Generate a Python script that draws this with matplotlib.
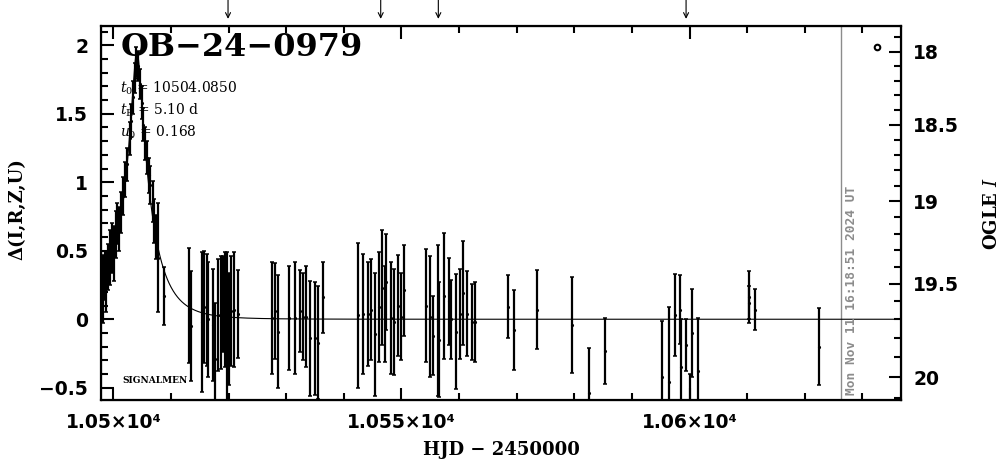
import numpy as np
import matplotlib
matplotlib.use("Agg")
import matplotlib.pyplot as plt
from matplotlib.ticker import MultipleLocator, FixedLocator

plt.rcParams['mathtext.fontset'] = 'dejavuserif'

# event parameters (as printed on the chart)
event_name = "OB\u221224\u22120979"
t0 = 10504.0850
tE = 5.10
u0 = 0.168
# baseline I magnitude and source fraction for the OGLE I axis
I_base = 19.70
f_src = 0.75

# photometry: HJD-2450000, delta mag, error
hjd = [10497.9, 10498.2, 10498.5, 10498.8, 10499.1, 10499.5, 10499.8, 10500.1,
       10500.4, 10500.7, 10501.0, 10501.3, 10501.7, 10502.0, 10502.4, 10502.8,
       10503.1, 10503.4, 10503.7, 10504.0, 10504.3, 10504.6, 10504.9, 10505.2,
       10505.5, 10505.8, 10506.1, 10506.4, 10506.8, 10507.1, 10507.4, 10507.8,
       10508.7,
       10513.2, 10513.5, 10515.4, 10515.8, 10516.2, 10516.5, 10517.3, 10517.7,
       10518.2, 10518.7, 10519.1, 10519.4, 10519.7, 10520.1, 10520.5, 10521.0,
       10521.6, 10527.6, 10528.0, 10528.6, 10530.5, 10531.5, 10532.4, 10532.9,
       10533.5, 10534.1, 10535.0, 10535.5, 10536.4, 10542.5, 10543.3, 10544.2,
       10544.8, 10545.4, 10546.1, 10546.7, 10547.1, 10547.4, 10548.2, 10548.7,
       10549.4, 10550.0, 10550.4, 10554.3, 10554.9, 10555.5, 10556.3, 10556.6,
       10557.4, 10558.2, 10558.6, 10559.5, 10560.1, 10560.6, 10561.4, 10562.3,
       10562.7, 10568.5, 10569.5, 10573.5, 10579.6, 10582.5, 10585.4, 10595.3,
       10596.4, 10597.4, 10598.4, 10598.5, 10599.4, 10600.0, 10600.4, 10601.4,
       10610.3, 10610.4, 10611.4, 10622.4]
dmag = [0.30, 0.22, 0.32, 0.27, 0.38, 0.45, 0.52, 0.48,
        0.62, 0.70, 0.66, 0.78, 0.90, 1.02, 1.13, 1.32,
        1.45, 1.62, 1.76, 1.88, 1.85, 1.72, 1.58, 1.42,
        1.28, 1.18, 1.05, 0.98, 0.86, 0.72, 0.60, 0.45,
        0.17,
        0.10, -0.05, -0.02, 0.09, 0.07, 0.00, -0.04, -0.29,
        0.03, 0.05, 0.11, 0.07, -0.05, -0.07, 0.06, 0.07,
        0.04, 0.01, 0.06, -0.09, 0.01, 0.01, 0.06, 0.02,
        0.02, -0.14, -0.14, -0.17, 0.16, 0.03, 0.04, 0.04,
        0.07, -0.11, 0.09, 0.23, 0.04, 0.27, 0.01, -0.02,
        0.10, 0.02, 0.21, 0.10, 0.02, -0.12, -0.01, -0.15,
        0.17, 0.13, 0.00, -0.09, 0.04, 0.19, 0.04, -0.02,
        -0.02, 0.09, -0.08, 0.07, -0.04, -0.54, -0.23, -0.42,
        -0.46, 0.03, 0.07, -0.35, -0.19, -0.75, -0.10, -0.38,
        0.16, 0.12, 0.07, -0.20]
err = [0.20, 0.25, 0.18, 0.22, 0.17, 0.20, 0.18, 0.20,
       0.17, 0.15, 0.16, 0.15, 0.14, 0.13, 0.12, 0.12,
       0.12, 0.12, 0.11, 0.11, 0.11, 0.11, 0.12, 0.12,
       0.12, 0.12, 0.13, 0.14, 0.15, 0.16, 0.16, 0.40,
       0.21,
       0.42, 0.40, 0.51, 0.41, 0.41, 0.42, 0.41, 0.41,
       0.41, 0.41, 0.35, 0.42, 0.54, 0.41, 0.40, 0.42,
       0.32, 0.41, 0.35, 0.41, 0.38, 0.41, 0.30, 0.32,
       0.37, 0.42, 0.41, 0.41, 0.26, 0.53, 0.44, 0.38,
       0.37, 0.45, 0.40, 0.42, 0.35, 0.35, 0.41, 0.39,
       0.37, 0.32, 0.33, 0.41, 0.44, 0.29, 0.55, 0.42,
       0.46, 0.32, 0.29, 0.42, 0.33, 0.38, 0.31, 0.28,
       0.29, 0.23, 0.29, 0.29, 0.35, 0.33, 0.24, 0.41,
       0.55, 0.30, 0.25, 0.35, 0.19, 0.35, 0.32, 0.39,
       0.19, 0.12, 0.15, 0.28]

# observation arrows above the frame
arrow_hjd = [10519.9, 10546.4, 10556.4, 10599.4]
now_hjd = 10626.3
now_text = "Mon Nov 11 16:18:51 2024 UT"
marker_pt = (10632.5, 1.99)

xticks = [10500, 10550, 10600]
xtick_labels = ["1.05\u00d710\u2074", "1.055\u00d710\u2074", "1.06\u00d710\u2074"]
yticks = [-0.5, 0, 0.5, 1, 1.5, 2]
ytick_labels = ["\u22120.5", "0", "0.5", "1", "1.5", "2"]
mag_ticks = [18, 18.5, 19, 19.5, 20]
mag_labels = ["18", "18.5", "19", "19.5", "20"]


def mag_to_delta(m):
    m = np.asarray(m, dtype=float)
    flux = 10 ** (-0.4 * (m - I_base))
    return 2.5 * np.log10((flux - (1 - f_src)) / f_src)


fig = plt.figure(figsize=(10.04, 4.59), dpi=100)
ax = fig.add_axes([0.1003, 0.1275, 0.7968, 0.8159])
xmin, xmax = 10497.8, 10636.65
ymin, ymax = -0.593, 2.141

# model curve
tm = np.linspace(xmin, xmax, 3000)
u = np.sqrt(u0 ** 2 + ((tm - t0) / tE) ** 2)
A = (u ** 2 + 2) / (u * np.sqrt(u ** 2 + 4))
ax.plot(tm, 2.5 * np.log10(A), color='k', lw=0.8, zorder=2)

ax.errorbar(hjd, dmag, yerr=err, fmt='.', ms=2.5, color='k', ecolor='k',
            elinewidth=1.6, capsize=1.5, capthick=1.1, zorder=3)

ax.axvline(now_hjd, color='#8c8c8c', lw=1.0, zorder=1)
ax.text(now_hjd + 0.75, -0.555, now_text, rotation=90, ha='left', va='bottom',
        color='#8c8c8c', fontsize=9.3, fontweight='bold', family='DejaVu Sans Mono')
ax.plot(*marker_pt, marker='o', ms=4, mfc='white', mec='k', mew=1.5, zorder=4)

for t in arrow_hjd:
    ax.annotate('', xy=(t, 1.019), xycoords=('data', 'axes fraction'),
                xytext=(t, 1.075), textcoords=('data', 'axes fraction'),
                arrowprops=dict(arrowstyle='->', lw=0.8, color='k',
                                shrinkA=0, shrinkB=0, mutation_scale=9),
                annotation_clip=False)

ax.set_xlim(xmin, xmax)
ax.set_ylim(ymin, ymax)

ax.set_xticks(xticks)
ax.set_xticklabels(xtick_labels)
ax.xaxis.set_minor_locator(MultipleLocator(10))
ax.set_yticks(yticks)
ax.set_yticklabels(ytick_labels)
ax.yaxis.set_minor_locator(MultipleLocator(0.1))
ax.tick_params(which='both', direction='in', top=True, right=False, width=1.5)
ax.tick_params(which='major', length=9)
ax.tick_params(which='minor', length=5)
ax.tick_params(axis='x', pad=9)
ax.tick_params(axis='y', pad=9)
for lab in ax.get_xticklabels() + ax.get_yticklabels():
    lab.set_fontsize(13.5)
    lab.set_fontweight('bold')
for s in ax.spines.values():
    s.set_linewidth(1.6)

ax2 = ax.twinx()
ax2.set_ylim(ymin, ymax)
ax2.yaxis.set_major_locator(FixedLocator(mag_to_delta(mag_ticks)))
ax2.set_yticklabels(mag_labels)
ax2.yaxis.set_minor_locator(FixedLocator(mag_to_delta(np.arange(17.9, 20.15, 0.1))))
ax2.tick_params(which='both', direction='in', width=1.5, pad=9)
ax2.tick_params(which='major', length=9)
ax2.tick_params(which='minor', length=5)
for lab in ax2.get_yticklabels():
    lab.set_fontsize(13.5)
    lab.set_fontweight('bold')

# annotations
ax.text(0.025, 0.985, event_name, transform=ax.transAxes, ha='left', va='top',
        fontsize=23, fontweight='bold', family='DejaVu Serif')
params = [r"$t_0$ = 10504.0850", r"$t_{\rm E}$ = 5.10 d", r"$u_0$ = 0.168"]
for i, s in enumerate(params):
    ax.text(0.024, 0.833 - i * 0.058, s, transform=ax.transAxes, ha='left',
            va='center', fontsize=10, family='DejaVu Serif')
ax.text(0.027, 0.054, "SIGNALMEN", transform=ax.transAxes, ha='left',
        va='center', fontsize=6.5, fontweight='bold', family='DejaVu Serif')

fig.text(0.499, 0.02, "HJD \u2212 2450000", ha='center', va='center',
         fontsize=13, fontweight='bold', family='DejaVu Serif')
fig.text(0.017, 0.545, "\u0394(I,R,Z,U)", rotation=90, ha='center', va='center',
         fontsize=13, fontweight='bold', family='DejaVu Serif')
fig.text(0.988, 0.535, r"OGLE $\mathit{I}$", rotation=90, ha='center', va='center',
         fontsize=13, fontweight='bold', family='DejaVu Serif')

fig.savefig("out.png", dpi=100)
